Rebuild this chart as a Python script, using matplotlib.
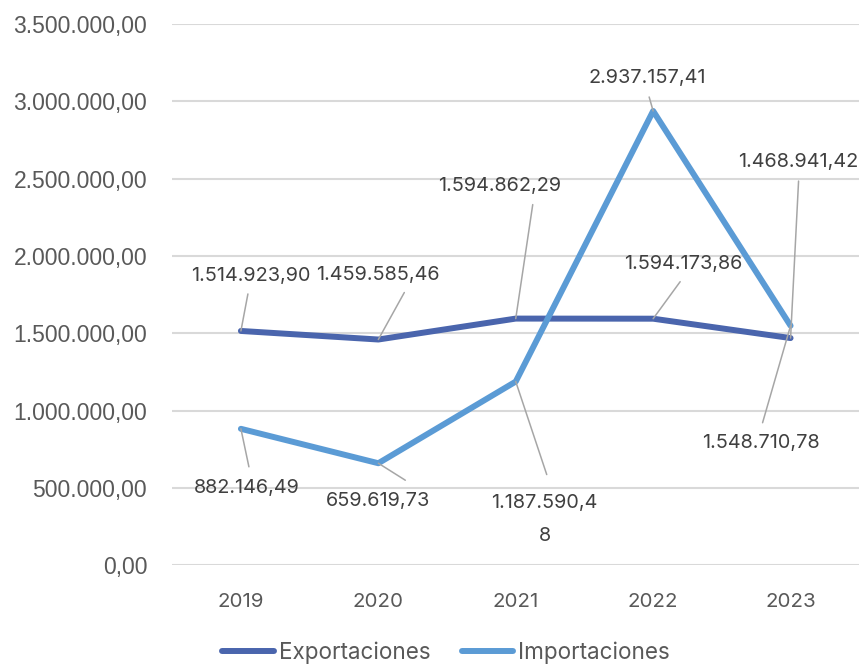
import matplotlib
matplotlib.use("Agg")
import matplotlib.pyplot as plt

years = ["2019", "2020", "2021", "2022", "2023"]
exportaciones = [1514923.90, 1459585.46, 1594862.29, 1594173.86, 1468941.42]
importaciones = [882146.49, 659619.73, 1187590.48, 2937157.41, 1548710.78]
exp_labels = ["1.514.923,90", "1.459.585,46", "1.594.862,29", "1.594.173,86", "1.468.941,42"]
imp_labels = ["882.146,49", "659.619,73", "1.187.590,4\n8", "2.937.157,41", "1.548.710,78"]
yticks = [0, 500000, 1000000, 1500000, 2000000, 2500000, 3000000, 3500000]
ytick_labels = ["0,00", "500.000,00", "1.000.000,00", "1.500.000,00", "2.000.000,00",
                "2.500.000,00", "3.000.000,00", "3.500.000,00"]

# label offsets in pixels (dx, dy) from the point, and where the leader line ends
exp_off = [(10, 55), (0, 65), (-16, 133), (30, 55), (8, 176)]
exp_lead = [(7, 37), (26, 47), (17, 114), (27, 37), (8, 157)]
imp_off = [(6, -59), (0, -38), (29, -138), (-6, 33), (-30, -117)]
imp_lead = [(8, -38), (27, -17), (31, -93), (-4, 14), (-28, -97)]

c_exp = "#4A65AD"
c_imp = "#5B9BD5"
txt = "#404040"
lab_font = "Inter"

fig = plt.figure(figsize=(8.61, 6.65), dpi=100)
ax = fig.add_axes([0.2, 0.150, 0.798, 0.814])
x = list(range(len(years)))

ax.plot(x, exportaciones, color=c_exp, lw=4.3, solid_capstyle="round",
        solid_joinstyle="round", label="Exportaciones", zorder=3)
ax.plot(x, importaciones, color=c_imp, lw=4.3, solid_capstyle="round",
        solid_joinstyle="round", label="Importaciones", zorder=3)

for vals, labs, offs, leads in [(exportaciones, exp_labels, exp_off, exp_lead),
                                (importaciones, imp_labels, imp_off, imp_lead)]:
    for i in range(len(vals)):
        ax.annotate(labs[i], (x[i], vals[i]), xytext=offs[i], textcoords="offset pixels",
                    ha="center", va="center", fontsize=14.3, color=txt,
                    family=lab_font, linespacing=2.1, zorder=4)
        ax.annotate("", (x[i], vals[i]), xytext=leads[i], textcoords="offset pixels",
                    arrowprops=dict(arrowstyle="-", color="#A6A6A6", lw=1.1,
                                    shrinkA=0, shrinkB=0), zorder=4)

ax.set_xlim(-0.5, 4.5)
ax.set_ylim(0, 3500000)
ax.set_yticks(yticks)
ax.set_yticklabels(ytick_labels, family="Liberation Sans", fontsize=16.5, color="#595959")
ax.set_xticks(x)
ax.set_xticklabels(years, family=lab_font, fontsize=14.8, color="#595959")
ax.tick_params(axis="both", length=0)
ax.tick_params(axis="y", pad=18)
ax.tick_params(axis="x", pad=20)
ax.grid(axis="y", color="#D9D9D9", lw=1.5)
ax.set_axisbelow(True)
for s in ax.spines.values():
    s.set_visible(False)

leg = fig.legend(loc="center", bbox_to_anchor=(0.518, 0.018), ncol=2, frameon=False,
                 handlelength=2.3, handletextpad=0.2, columnspacing=1.4,
                 prop={"family": lab_font, "size": 16.2})
for t in leg.get_texts():
    t.set_color("#595959")
for l in leg.get_lines():
    l.set_solid_capstyle("round")

fig.savefig("out.png", dpi=100)
